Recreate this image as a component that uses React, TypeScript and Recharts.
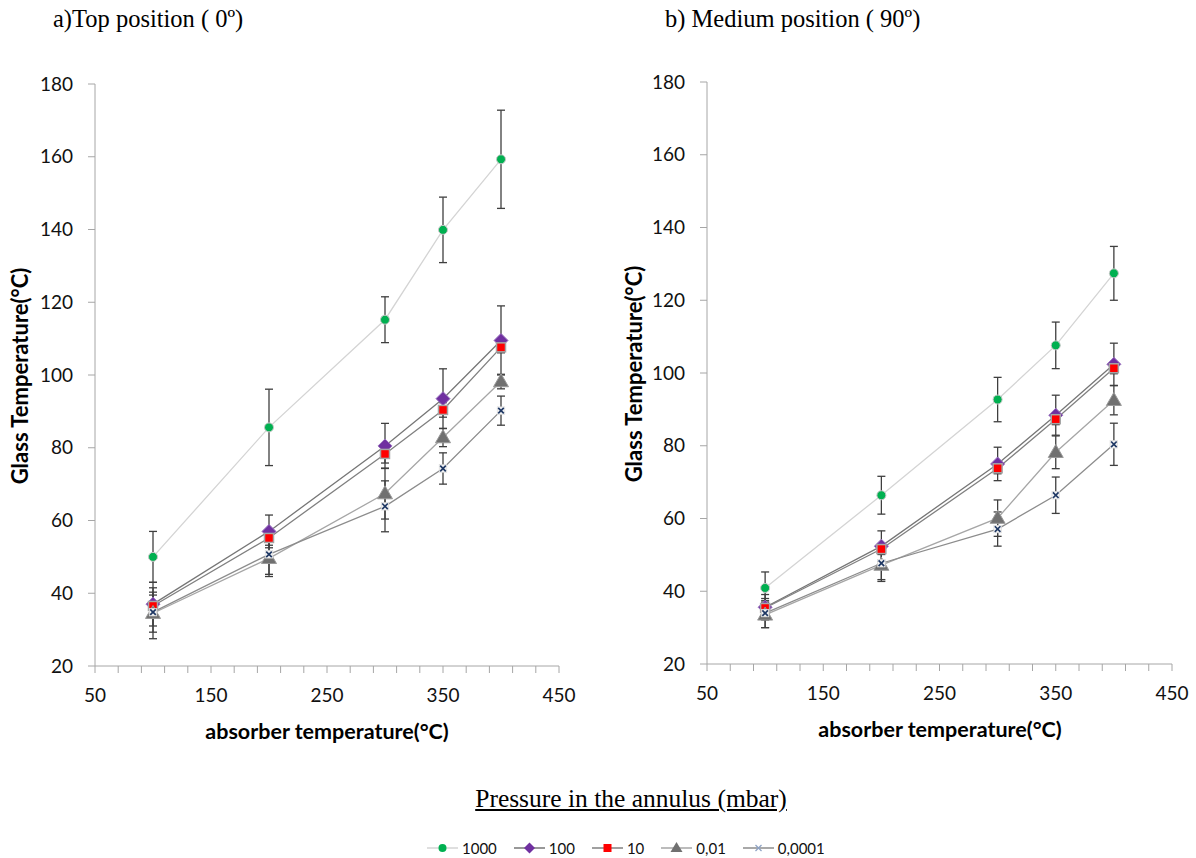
import React from 'react';
import { LineChart, Line, XAxis, YAxis, ErrorBar } from 'recharts';

// ---------- data ----------
const absorberTemps = [100, 200, 300, 350, 400];
const xTicks = [50, 70, 90, 110, 130, 150, 170, 190, 210, 230, 250, 270, 290, 310, 330, 350, 370, 390, 410, 430, 450];
const yTicks = [20, 40, 60, 80, 100, 120, 140, 160, 180];
const pressureLabels = ['1000', '100', '10', '0,01', '0,0001'];

// a) Top position (0º)
const top1000 = [50, 85.6, 115.2, 139.9, 159.3];
const top1000Err = [7, 10.5, 6.3, 9, 13.5];
const top100 = [37, 57, 80.5, 93.5, 109.5];
const top100Err = [6, 4.5, 6.2, 8.2, 9.5];
const top10 = [36.5, 55.2, 78.3, 90.4, 107.6];
const top10Err = [3, 2, 2.5, 2, 1.5];
const top001 = [34.5, 49.6, 67.4, 82.8, 98.2];
const top001Err = [7, 5, 7, 2.5, 2];
const top00001 = [34.8, 50.7, 63.9, 74.3, 90.2];
const top00001Err = [5.5, 5.5, 7, 4.3, 4];

// b) Medium position (90º)
const med1000 = [40.9, 66.4, 92.7, 107.6, 127.4];
const med1000Err = [4.4, 5.2, 6.1, 6.4, 7.4];
const med100 = [35.6, 52.4, 75, 88.4, 102.4];
const med100Err = [3.5, 4.2, 4.6, 5.5, 5.8];
const med10 = [35.4, 51.6, 73.8, 87.3, 101.3];
const med10Err = [2, 1.5, 1.5, 1.5, 1.5];
const med001 = [33.5, 47.2, 60.1, 78.2, 92.5];
const med001Err = [3.5, 4.5, 5, 4.5, 4];
const med00001 = [34, 47.7, 57.1, 66.4, 80.4];
const med00001Err = [4, 4.5, 4.7, 5, 5.8];

// ---------- styles ----------
type Shape = 'circle' | 'diamond' | 'square' | 'triangle' | 'cross';
const seriesStyle: { key: string; shape: Shape; line: string }[] = [
  { key: 'p1000', shape: 'circle', line: '#d4d4d4' },
  { key: 'p100', shape: 'diamond', line: '#767676' },
  { key: 'p10', shape: 'square', line: '#808080' },
  { key: 'p001', shape: 'triangle', line: '#a6a6a6' },
  { key: 'p00001', shape: 'cross', line: '#8c8c8c' },
];

function buildRows(vals: number[][], errs: number[][]) {
  return absorberTemps.map((x, i) => {
    const row: Record<string, number> = { x };
    seriesStyle.forEach((s, j) => {
      row[s.key] = vals[j][i];
      row['e_' + s.key] = errs[j][i];
    });
    return row;
  });
}

const topRows = buildRows(
  [top1000, top100, top10, top001, top00001],
  [top1000Err, top100Err, top10Err, top001Err, top00001Err]
);
const medRows = buildRows(
  [med1000, med100, med10, med001, med00001],
  [med1000Err, med100Err, med10Err, med001Err, med00001Err]
);

function Marker({ cx, cy, shape, legend }: { cx: number; cy: number; shape: Shape; legend?: boolean }) {
  if (cx == null || cy == null || isNaN(cx) || isNaN(cy)) return null;
  switch (shape) {
    case 'circle':
      return <circle cx={cx} cy={cy} r={legend ? 4 : 4.5} fill="#00b050" stroke={legend ? 'none' : '#c8c8c8'} strokeWidth={1} />;
    case 'diamond': {
      const d = legend ? 5.5 : 7;
      return (
        <polygon
          points={`${cx},${cy - d} ${cx + d},${cy} ${cx},${cy + d} ${cx - d},${cy}`}
          fill="#7030a0"
          stroke={legend ? 'none' : '#9a74bf'}
          strokeWidth={1}
        />
      );
    }
    case 'square': {
      const s = legend ? 4 : 4.5;
      return (
        <rect x={cx - s} y={cy - s} width={2 * s} height={2 * s} fill="#ff0000" stroke={legend ? 'none' : '#a6a6a6'} strokeWidth={1.5} />
      );
    }
    case 'triangle': {
      const w = legend ? 6 : 7.5;
      const h = legend ? 10 : 13;
      return (
        <polygon
          points={`${cx},${cy - h * 0.6} ${cx + w},${cy + h * 0.4} ${cx - w},${cy + h * 0.4}`}
          fill="#707070"
          stroke={legend ? 'none' : '#9a9a9a'}
          strokeWidth={1}
        />
      );
    }
    case 'cross': {
      const s = legend ? 3 : 2.8;
      const col = legend ? '#8ea2c4' : '#1f3864';
      return (
        <g>
          {!legend && <rect x={cx - s - 1} y={cy - s - 1} width={2 * s + 2} height={2 * s + 2} fill="#f4f4f4" stroke="#d8d8d8" strokeWidth={0.6} />}
          <line x1={cx - s} y1={cy - s} x2={cx + s} y2={cy + s} stroke={col} strokeWidth={legend ? 1.2 : 1.7} />
          <line x1={cx - s} y1={cy + s} x2={cx + s} y2={cy - s} stroke={col} strokeWidth={legend ? 1.2 : 1.7} />
        </g>
      );
    }
  }
  return null;
}

const tickFont = { fontSize: 19, fontFamily: 'Lato, "Open Sans", sans-serif', fill: '#111' };
const axisGray = '#a6a6a6';

function Panel({ rows, margin, width }: { rows: Record<string, number>[]; margin: any; width: number }) {
  return (
    <LineChart width={width} height={760} data={rows} margin={margin}>
      <XAxis
        type="number"
        dataKey="x"
        domain={[50, 450]}
        ticks={xTicks}
        interval={0}
        allowDataOverflow
        tickFormatter={(v: number) => ((v - 50) % 100 === 0 ? String(v) : '')}
        tickSize={7}
        tickMargin={16}
        height={40}
        axisLine={{ stroke: axisGray }}
        tickLine={{ stroke: axisGray }}
        tick={tickFont}
      />
      <YAxis
        type="number"
        domain={[20, 180]}
        ticks={yTicks}
        interval={0}
        allowDataOverflow
        tickSize={7}
        tickMargin={15}
        width={60}
        axisLine={{ stroke: axisGray }}
        tickLine={{ stroke: axisGray }}
        tick={tickFont}
      />
      {seriesStyle.map((s) => (
        <Line
          key={s.key}
          type="linear"
          dataKey={s.key}
          stroke={s.line}
          strokeWidth={1.3}
          isAnimationActive={false}
          dot={(p: any) => <Marker key={`${s.key}-${p.index}`} cx={p.cx} cy={p.cy} shape={s.shape} />}
          activeDot={false}
        >
          <ErrorBar dataKey={'e_' + s.key} direction="y" width={4} stroke="#3f3f3f" strokeWidth={1.3} />
        </Line>
      ))}
    </LineChart>
  );
}

const serif = '"Liberation Serif", "DejaVu Serif", serif';
const sans = 'Lato, "Open Sans", sans-serif';

export default function App() {
  return (
    <div style={{ position: 'absolute', left: 0, top: 0, width: 1196, height: 858, background: '#fff', overflow: 'hidden' }}>
      <div style={{ position: 'absolute', left: 0, top: 0 }}>
        <Panel rows={topRows} width={600} margin={{ top: 84, left: 35, right: 41, bottom: 54 }} />
      </div>
      <div style={{ position: 'absolute', left: 600, top: 0 }}>
        <Panel rows={medRows} width={596} margin={{ top: 82, left: 47, right: 24, bottom: 56 }} />
      </div>

      {/* titles */}
      <div style={{ position: 'absolute', left: 53, top: 5, fontFamily: serif, fontSize: 24.5, color: '#000', whiteSpace: 'nowrap' }}>
        a)Top position ( 0º)
      </div>
      <div style={{ position: 'absolute', left: 665, top: 5, fontFamily: serif, fontSize: 24.5, color: '#000', whiteSpace: 'nowrap' }}>
        b) Medium position ( 90º)
      </div>

      {/* axis titles */}
      {[
        { cx: 20, cy: 376 },
        { cx: 634, cy: 374 },
      ].map((p, i) => (
        <div
          key={'yl' + i}
          style={{
            position: 'absolute',
            left: p.cx - 150,
            top: p.cy - 13,
            width: 300,
            height: 26,
            lineHeight: '26px',
            textAlign: 'center',
            transform: 'rotate(-90deg)',
            fontFamily: sans,
            fontWeight: 700,
            fontSize: 22,
            color: '#000',
            whiteSpace: 'nowrap',
          }}
        >
          Glass Temperature(°C)
        </div>
      ))}
      {[
        { cx: 327, cy: 731 },
        { cx: 940, cy: 729 },
      ].map((p, i) => (
        <div
          key={'xl' + i}
          style={{
            position: 'absolute',
            left: p.cx - 150,
            top: p.cy - 13,
            width: 300,
            height: 26,
            lineHeight: '26px',
            textAlign: 'center',
            fontFamily: sans,
            fontWeight: 700,
            fontSize: 21.5,
            color: '#000',
            whiteSpace: 'nowrap',
          }}
        >
          absorber temperature(°C)
        </div>
      ))}

      {/* legend title */}
      <div
        style={{
          position: 'absolute',
          left: 331,
          top: 784,
          width: 600,
          textAlign: 'center',
          fontFamily: serif,
          fontSize: 25.5,
          textDecoration: 'underline',
          color: '#000',
          whiteSpace: 'nowrap',
        }}
      >
        Pressure in the annulus (mbar)
      </div>

      {/* legend */}
      <div style={{ position: 'absolute', left: 427, top: 837, height: 22, display: 'flex', alignItems: 'center' }}>
        {seriesStyle.map((s, i) => (
          <div key={s.key} style={{ display: 'flex', alignItems: 'center', marginRight: 17 }}>
            <svg width={31} height={20}>
              <line x1={0} y1={10} x2={31} y2={10} stroke={s.line} strokeWidth={1.5} />
              <Marker cx={15.5} cy={10} shape={s.shape} legend />
            </svg>
            <span style={{ marginLeft: 4, fontFamily: sans, fontSize: 15, color: '#111', lineHeight: '20px' }}>{pressureLabels[i]}</span>
          </div>
        ))}
      </div>
    </div>
  );
}
